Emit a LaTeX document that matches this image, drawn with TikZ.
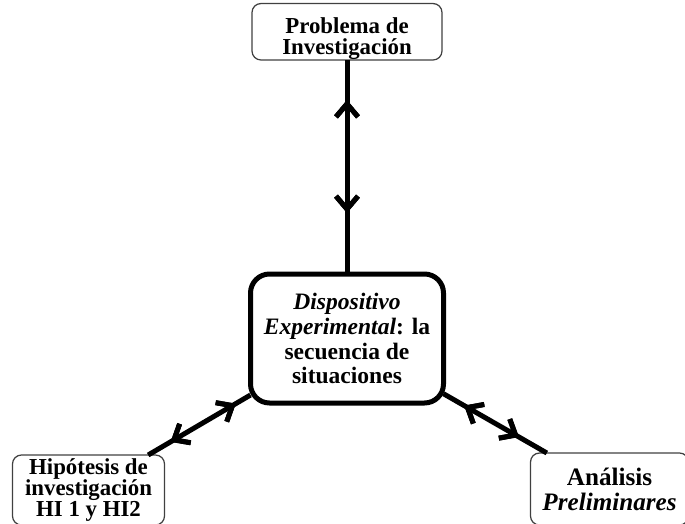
\documentclass[tikz,border=0pt]{standalone}
\usepackage{fontspec}
\setmainfont{Liberation Serif}
\usepackage{tikz}
\usetikzlibrary{positioning}
\usetikzlibrary{arrows.meta}
\usetikzlibrary{decorations.markings}
\tikzset{%
  boxthin/.style={rectangle,rounded corners=1.8mm,draw=black!75,line width=0.25mm,align=center,inner sep=0pt,outer sep=0pt}
}
\tikzset{%
  boxthick/.style={rectangle,rounded corners=3.8mm,draw=black,line width=1mm,align=center,inner sep=0pt,outer sep=0pt}
}
\tikzset{%
  barb/.tip={Straight Barb[length=2.6mm,width=4.4mm]},
  link/.style={line width=1mm,postaction={decorate},decoration={markings,
      mark=at position #1 with {\arrowreversed{barb}}}},
  tipto/.style={postaction={decorate},decoration={markings,
      mark=at position #1 with {\arrow{barb}}}}
}
\newcommand\smallfont{\fontsize{13}{12.2}\selectfont\bfseries}
\newcommand\bigfont{\fontsize{13.4}{14.2}\selectfont\bfseries}
\newcommand\anafont{\fontsize{14.3}{14.2}\selectfont\bfseries}
\newcommand\topgap{\rule{0pt}{6mm}}

\begin{document}
\begin{tikzpicture}[x=0.2mm,y=-0.2mm]
  \useasboundingbox (0,0) rectangle (685,523);
  \clip (0,0) rectangle (685,523);

  \node[boxthick,minimum width=38.6mm,minimum height=25.8mm,font=\bigfont](disp) at (347,338.5)
    {\textit{Dispositivo}\\ \textit{Experimental}: la\\ secuencia de\\ situaciones};
  \node[boxthin,above=42.8mm of disp,minimum width=38mm,minimum height=9.6mm,font=\smallfont](prob)
    {\topgap Problema de\\ Investigación};
  \node[boxthin,below left=10.4mm and 17.2mm of disp,minimum width=30.4mm,minimum height=14mm,font=\smallfont](hip)
    {Hipótesis de\\ investigación\\ HI 1 y HI2};
  \node[boxthin,below right=10mm and 17.4mm of disp,minimum width=31.6mm,minimum height=14.4mm,font=\anafont](anal)
    {Análisis\\ \textit{Preliminares}};

  \draw[link=0.187,tipto=0.715] (prob) -- (disp);
  \draw[link=0.22,tipto=0.857] (hip) -- (disp);
  \draw[link=0.27,tipto=0.80] (anal) -- (disp);
\end{tikzpicture}
\end{document}
